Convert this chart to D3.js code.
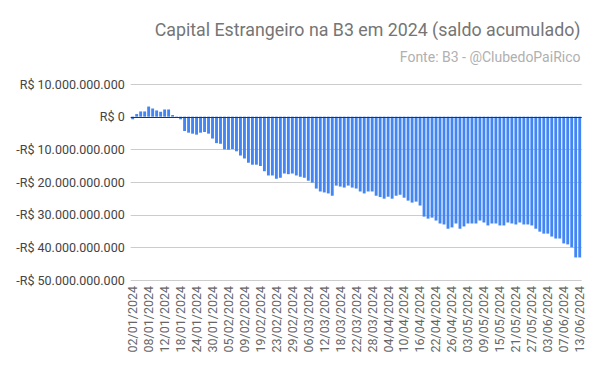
<!DOCTYPE html>
<html lang="pt-BR">
<head>
    <meta charset="UTF-8">
    <title>Capital Estrangeiro na B3 em 2024</title>
    <script src="https://d3js.org/d3.v7.min.js"></script>
    <style>
        body { margin: 0; background: #fff; }
        text { font-family: Roboto, Arial, sans-serif; }
    </style>
</head>
<body>
    <script>
var dates = [
    '02/01/2024','03/01/2024','04/01/2024','05/01/2024','08/01/2024','09/01/2024','10/01/2024','11/01/2024','12/01/2024','15/01/2024',
    '16/01/2024','17/01/2024','18/01/2024','19/01/2024','22/01/2024','23/01/2024','24/01/2024','25/01/2024','26/01/2024','29/01/2024',
    '30/01/2024','31/01/2024','01/02/2024','02/02/2024','05/02/2024','06/02/2024','07/02/2024','08/02/2024','09/02/2024','14/02/2024',
    '15/02/2024','16/02/2024','19/02/2024','20/02/2024','21/02/2024','22/02/2024','23/02/2024','26/02/2024','27/02/2024','28/02/2024',
    '29/02/2024','01/03/2024','04/03/2024','05/03/2024','06/03/2024','07/03/2024','08/03/2024','11/03/2024','12/03/2024','13/03/2024',
    '14/03/2024','15/03/2024','18/03/2024','19/03/2024','20/03/2024','21/03/2024','22/03/2024','25/03/2024','26/03/2024','27/03/2024',
    '28/03/2024','01/04/2024','02/04/2024','03/04/2024','04/04/2024','05/04/2024','08/04/2024','09/04/2024','10/04/2024','11/04/2024',
    '12/04/2024','15/04/2024','16/04/2024','17/04/2024','18/04/2024','19/04/2024','22/04/2024','23/04/2024','24/04/2024','25/04/2024',
    '26/04/2024','29/04/2024','30/04/2024','02/05/2024','03/05/2024','06/05/2024','07/05/2024','08/05/2024','09/05/2024','10/05/2024',
    '13/05/2024','14/05/2024','15/05/2024','16/05/2024','17/05/2024','20/05/2024','21/05/2024','22/05/2024','23/05/2024','24/05/2024',
    '27/05/2024','28/05/2024','29/05/2024','31/05/2024','03/06/2024','04/06/2024','05/06/2024','06/06/2024','07/06/2024','10/06/2024',
    '11/06/2024','12/06/2024','13/06/2024'
];

// saldo acumulado, em bilhões de reais
var saldo = [
    -0.8, 0.8, 1.6, 1.6, 3.1, 2.5, 1.9, 1.5, 2.2, 2.2,
    0.5, -0.1, -0.8, -4.4, -4.9, -5.2, -5.5, -4.9, -4.7, -5.2,
    -6.7, -8.1, -8.3, -10.0, -10.1, -9.9, -10.6, -11.9, -12.8, -14.1,
    -14.7, -14.7, -15.1, -16.7, -18.0, -18.0, -19.0, -18.7, -17.4, -17.6,
    -17.4, -18.0, -18.4, -18.7, -19.6, -20.2, -22.0, -22.9, -23.2, -23.5,
    -24.2, -21.1, -21.4, -21.7, -21.1, -21.7, -22.0, -22.9, -23.5, -22.9,
    -22.9, -24.2, -24.6, -25.1, -24.5, -25.1, -24.2, -23.9, -24.8, -25.7,
    -26.3, -26.0, -27.2, -30.6, -31.2, -30.9, -31.8, -32.7, -33.0, -34.3,
    -33.9, -32.7, -34.3, -33.6, -32.7, -32.7, -32.7, -31.8, -32.4, -33.3,
    -32.7, -32.7, -33.3, -33.3, -32.4, -32.7, -33.0, -32.4, -33.0, -33.0,
    -33.3, -34.3, -35.2, -35.8, -35.8, -36.7, -37.3, -37.3, -38.8, -39.1,
    -40.0, -43.1, -43.1
];

var yTicks = [10e9, 0, -10e9, -20e9, -30e9, -40e9, -50e9];

var width = 600;
var height = 371;

var svg = d3.select('body')
    .append('svg')
    .attr('width', width)
    .attr('height', height);

var x = d3.scaleBand()
    .domain(dates)
    .range([130.7, 581.7])
    .paddingInner(0.28)
    .paddingOuter(0.14);

var y = d3.scaleLinear()
    .domain([-50e9, 10e9])
    .range([280, 84]);

// R$ com separador de milhar "."
function brl(v) {
    var s = d3.format(',')(Math.abs(v)).replace(/,/g, '.');
    return (v < 0 ? '-' : '') + 'R$ ' + s;
}

// grade
svg.append('g')
    .selectAll('line')
    .data(yTicks)
    .join('line')
    .attr('x1', 130.7)
    .attr('x2', 581.7)
    .attr('y1', d => Math.round(y(d)) + 0.5)
    .attr('y2', d => Math.round(y(d)) + 0.5)
    .attr('stroke', '#cccccc')
    .attr('stroke-width', 1);

// eixo y
var yAxis = d3.axisLeft(y)
    .tickValues(yTicks)
    .tickFormat(brl)
    .tickSize(0)
    .tickPadding(6);

svg.append('g')
    .attr('transform', 'translate(130.7,0)')
    .call(yAxis)
    .call(g => g.select('.domain').remove())
    .selectAll('text')
    .attr('font-size', 12.5)
    .attr('fill', '#444444');

// barras
svg.append('g')
    .selectAll('rect')
    .data(saldo)
    .join('rect')
    .attr('x', (d, i) => x(dates[i]))
    .attr('width', x.bandwidth())
    .attr('y', d => y(Math.max(0, d * 1e9)))
    .attr('height', d => Math.abs(y(d * 1e9) - y(0)))
    .attr('fill', '#4285f4');

// linha do zero
svg.append('line')
    .attr('x1', 130.7)
    .attr('x2', 581.7)
    .attr('y1', Math.round(y(0)) + 0.5)
    .attr('y2', Math.round(y(0)) + 0.5)
    .attr('stroke', '#333333')
    .attr('stroke-width', 1);

// eixo x (rótulo a cada 4 pregões)
var xAxis = d3.axisBottom(x)
    .tickValues(dates.filter((d, i) => i % 4 === 0))
    .tickSize(0);

svg.append('g')
    .attr('transform', 'translate(0,280)')
    .call(xAxis)
    .call(g => g.select('.domain').remove())
    .selectAll('text')
    .attr('font-size', 12.5)
    .attr('fill', '#666666')
    .attr('transform', 'rotate(-90)')
    .attr('text-anchor', 'end')
    .attr('dy', '0.35em')
    .attr('x', -6)
    .attr('y', 0);

// títulos
svg.append('text')
    .attr('x', 580.5)
    .attr('y', 36)
    .attr('text-anchor', 'end')
    .attr('font-size', 17.8)
    .attr('fill', '#757575')
    .text('Capital Estrangeiro na B3 em 2024 (saldo acumulado)');

svg.append('text')
    .attr('x', 580.5)
    .attr('y', 62)
    .attr('text-anchor', 'end')
    .attr('font-size', 14)
    .attr('fill', '#b0b0b0')
    .text('Fonte: B3 - @ClubedoPaiRico');
    </script>
</body>
</html>
